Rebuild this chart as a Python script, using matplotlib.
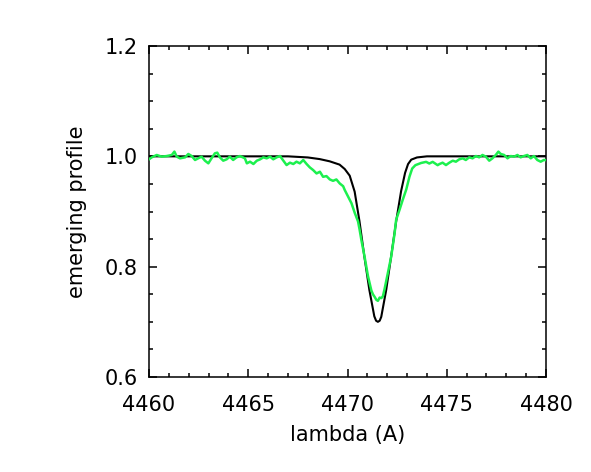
"""Emerging line profile: model (black) vs observed (green) around He I 4471."""
import matplotlib
matplotlib.use("Agg")
import matplotlib.pyplot as plt
from matplotlib.ticker import MultipleLocator

# model profile (smooth)
model_lam = [4460.0, 4467.0, 4467.5, 4468.0, 4468.6, 4469.1, 4469.6, 4469.86,
             4470.11, 4470.36, 4470.60, 4470.85, 4471.10, 4471.35, 4471.44,
             4471.53, 4471.62, 4471.70, 4471.95, 4472.20, 4472.45, 4472.70,
             4472.90, 4473.05, 4473.21, 4473.50, 4474.0, 4480.0]
model_flux = [1.000, 1.000, 0.999, 0.998, 0.995, 0.991, 0.985, 0.977,
              0.965, 0.936, 0.883, 0.818, 0.758, 0.710, 0.702,
              0.700, 0.702, 0.709, 0.758, 0.819, 0.882, 0.937,
              0.970, 0.986, 0.994, 0.998, 1.000, 1.000]

obs_lam = [4460.00, 4460.14, 4460.39, 4460.64, 4460.90, 4461.15, 4461.28, 4461.40,
           4461.56, 4461.82, 4461.98, 4462.15, 4462.32, 4462.48, 4462.65, 4462.82,
           4462.99, 4463.15, 4463.32, 4463.44, 4463.57, 4463.74, 4463.91, 4464.07,
           4464.24, 4464.41, 4464.58, 4464.83, 4464.93, 4465.09, 4465.26, 4465.43,
           4465.60, 4465.76, 4465.93, 4466.10, 4466.26, 4466.43, 4466.60, 4466.77,
           4466.93, 4467.10, 4467.27, 4467.43, 4467.60, 4467.77, 4467.94, 4468.10,
           4468.27, 4468.44, 4468.61, 4468.77, 4468.94, 4469.11, 4469.27, 4469.44,
           4469.61, 4469.78, 4469.86, 4470.03, 4470.20, 4470.36, 4470.53, 4470.61,
           4470.70, 4470.86, 4471.03, 4471.20, 4471.28, 4471.37, 4471.45, 4471.53,
           4471.62, 4471.70, 4471.78, 4471.87, 4472.03, 4472.20, 4472.37, 4472.45,
           4472.62, 4472.78, 4472.96, 4473.12, 4473.26, 4473.42, 4473.71, 4473.96,
           4474.12, 4474.29, 4474.54, 4474.63, 4474.79, 4474.96, 4475.13, 4475.30,
           4475.46, 4475.63, 4475.80, 4475.96, 4476.13, 4476.30, 4476.47, 4476.63,
           4476.80, 4476.97, 4477.14, 4477.30, 4477.47, 4477.60, 4477.72, 4477.89,
           4478.06, 4478.22, 4478.39, 4478.56, 4478.72, 4478.89, 4479.06, 4479.23,
           4479.39, 4479.56, 4479.73, 4479.89, 4480.00]
obs_flux = [0.9946, 0.9982, 1.0025, 0.9994, 1.0006, 1.0025, 1.0086, 0.9994,
            0.9964, 0.9982, 1.0043, 1.0006, 0.9934, 0.9964, 0.9994, 0.9921,
            0.9873, 0.9964, 1.0055, 1.0067, 0.9982, 0.9921, 0.9946, 0.9994,
            0.9934, 0.9982, 1.0006, 0.9964, 0.9873, 0.9903, 0.9861, 0.9921,
            0.9946, 0.9982, 0.9964, 0.9994, 0.9946, 0.9982, 1.0006, 0.9921,
            0.9842, 0.9885, 0.9861, 0.9903, 0.9873, 0.9934, 0.9861, 0.9800,
            0.9751, 0.9690, 0.9721, 0.9629, 0.9642, 0.9581, 0.9556, 0.9581,
            0.9508, 0.9459, 0.939, 0.927, 0.915, 0.898, 0.882, 0.867,
            0.848, 0.818, 0.783, 0.757, 0.750, 0.745, 0.740, 0.738,
            0.744, 0.743, 0.746, 0.760, 0.788, 0.818, 0.860, 0.885,
            0.903, 0.921, 0.940, 0.963, 0.978, 0.984, 0.988, 0.990,
            0.987, 0.990, 0.984, 0.986, 0.9885, 0.9842, 0.9885, 0.9921,
            0.9903, 0.9946, 0.9964, 0.9934, 0.9982, 0.9964, 1.0006, 0.9982,
            1.0025, 0.9994, 0.9921, 0.9964, 1.0025, 1.0086, 1.0043, 1.0025,
            0.9964, 1.0006, 0.9994, 1.0025, 0.9982, 1.0006, 1.0025, 0.9964,
            1.0006, 0.9934, 0.9903, 0.9934, 0.993]

fig = plt.figure(figsize=(5.91, 4.72), dpi=100)
ax = fig.add_axes([0.2521, 0.2013, 0.9239 - 0.2521, 0.9025 - 0.2013])

ax.plot(model_lam, model_flux, color="black", lw=1.5, zorder=2)
ax.plot(obs_lam, obs_flux, color="#1CF04E", lw=1.8, zorder=3)

ax.set_xlim(4460, 4480)
ax.set_ylim(0.6, 1.2)
ax.xaxis.set_major_locator(MultipleLocator(5))
ax.xaxis.set_minor_locator(MultipleLocator(1))
ax.yaxis.set_major_locator(MultipleLocator(0.2))
ax.yaxis.set_minor_locator(MultipleLocator(0.05))
ax.yaxis.set_major_formatter(lambda v, pos: f"{v:.1f}")

ax.tick_params(which="both", direction="in", top=True, right=True,
               width=1.1, labelsize=15, color="black")
ax.tick_params(which="major", length=5.5)
ax.tick_params(which="minor", length=2.7)
ax.tick_params(axis="x", which="major", pad=13)
ax.tick_params(axis="y", which="major", pad=8)
for s in ax.spines.values():
    s.set_linewidth(1.1)

ax.set_xlabel("lambda (A)", fontsize=15, labelpad=7)
ax.set_ylabel("emerging profile", fontsize=15, labelpad=13)

fig.savefig("out.png", dpi=100)
